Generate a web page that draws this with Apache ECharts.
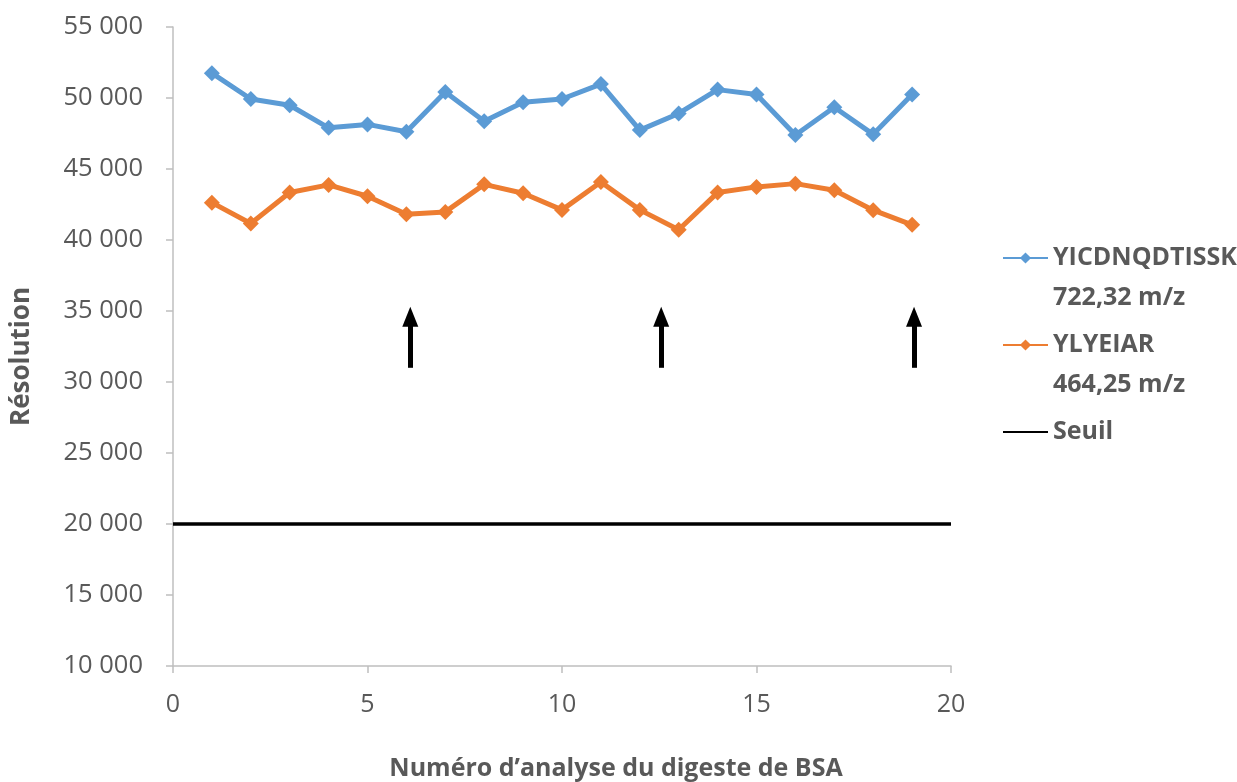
<!DOCTYPE html>
<html>
<head>
<meta charset="utf-8">
<script src="https://cdn.jsdelivr.net/npm/echarts@6/dist/echarts.min.js"></script>
<style>
  html, body { margin: 0; padding: 0; background: #fff; }
  #chart { width: 1237px; height: 782px; }
</style>
</head>
<body>
<div id="chart"></div>
<script>
// Analysis run numbers (x values)
const runs = [1, 2, 3, 4, 5, 6, 7, 8, 9, 10, 11, 12, 13, 14, 15, 16, 17, 18, 19];

// Resolution measured for each peptide
const resYICDNQDTISSK = [51750, 49930, 49490, 47900, 48140, 47620, 50420, 48370, 49700, 49930,
                         50980, 47740, 48910, 50590, 50240, 47390, 49350, 47440, 50240];
const resYLYEIAR = [42630, 41160, 43340, 43880, 43080, 41820, 41980, 43920, 43290, 42120,
                    44090, 42120, 40720, 43340, 43740, 43970, 43500, 42100, 41070];

// Acceptance threshold
const thresholdValue = 20000;
const thresholdSpan = [0, 20];

// Arrows marking specific runs
const arrowRuns = [6.1, 12.55, 19.05];
const arrowBase = 31000;
const arrowTip = 34600;

// Legend labels
const seriesNames = ['YICDNQDTISSK', 'YLYEIAR', 'Seuil'];
const seriesSubtitles = ['722,32 m/z', '464,25 m/z', ''];

const fmtThousands = v => String(v).replace(/\B(?=(\d{3})+(?!\d))/g, ' ');

const FONT = '"Open Sans", "Liberation Sans", sans-serif';
const GREY = '#595959';

const chart = echarts.init(document.getElementById('chart'), null, { renderer: 'canvas' });

const pairs = vals => runs.map((r, i) => [r, vals[i]]);

chart.setOption({
  animation: false,
  backgroundColor: '#ffffff',
  grid: { left: 173, right: 286, top: 27, bottom: 116, containLabel: false, outerBoundsMode: 'none' },
  legend: {
    orient: 'vertical',
    left: 1002,
    top: 198,
    padding: 0,
    itemGap: -33,
    itemWidth: 45,
    itemHeight: 14,
    data: [
      { name: seriesNames[0] },
      { name: seriesNames[1] },
      { name: seriesNames[2], itemStyle: { opacity: 0 } }
    ],
    formatter: name => {
      const i = seriesNames.indexOf(name);
      return '\n' + name + '\n' + (seriesSubtitles[i] || ' ');
    },
    textStyle: {
      fontFamily: FONT,
      fontWeight: 'bold',
      fontSize: 25,
      lineHeight: 40,
      color: GREY
    }
  },
  xAxis: {
    type: 'value',
    min: 0,
    max: 20,
    interval: 5,
    name: 'Numéro d’analyse du digeste de BSA',
    nameLocation: 'middle',
    nameGap: 90,
    nameTextStyle: {
      fontFamily: FONT,
      fontWeight: 'bold',
      fontSize: 25,
      color: GREY,
      padding: [0, 0, 0, 108]
    },
    axisLine: { show: true, lineStyle: { color: '#bfbfbf', width: 1.5 } },
    axisTick: { show: true, length: 7, lineStyle: { color: '#bfbfbf', width: 1.5 } },
    axisLabel: { fontFamily: FONT, fontSize: 25, color: GREY, margin: 26 },
    splitLine: { show: false }
  },
  yAxis: {
    type: 'value',
    min: 10000,
    max: 55000,
    interval: 5000,
    name: 'Résolution',
    nameLocation: 'middle',
    nameGap: 138,
    nameTextStyle: {
      fontFamily: FONT,
      fontWeight: 'bold',
      fontSize: 26,
      color: GREY,
      padding: [0, 20, 0, 0]
    },
    axisLine: { show: true, lineStyle: { color: '#bfbfbf', width: 1.5 } },
    axisTick: { show: true, length: 7, lineStyle: { color: '#bfbfbf', width: 1.5 } },
    axisLabel: { fontFamily: FONT, fontSize: 25.5, color: GREY, margin: 30, formatter: fmtThousands },
    splitLine: { show: false }
  },
  series: [
    {
      name: seriesNames[0],
      type: 'line',
      data: pairs(resYICDNQDTISSK),
      symbol: 'diamond',
      symbolSize: 16,
      lineStyle: { color: '#5b9bd5', width: 5 },
      itemStyle: { color: '#5b9bd5' }
    },
    {
      name: seriesNames[1],
      type: 'line',
      data: pairs(resYLYEIAR),
      symbol: 'diamond',
      symbolSize: 16,
      lineStyle: { color: '#ed7d31', width: 5 },
      itemStyle: { color: '#ed7d31' }
    },
    {
      name: seriesNames[2],
      type: 'line',
      data: thresholdSpan.map(x => [x, thresholdValue]),
      symbol: 'none',
      lineStyle: { color: '#000000', width: 3.5 },
      itemStyle: { color: '#000000' },
      markLine: {
        silent: true,
        symbol: ['none', 'triangle'],
        symbolSize: [16, 20],
        label: { show: false },
        lineStyle: { color: '#000000', width: 5, type: 'solid' },
        data: arrowRuns.map(x => [
          { coord: [x, arrowBase] },
          { coord: [x, arrowTip] }
        ])
      }
    }
  ]
});
</script>
</body>
</html>
